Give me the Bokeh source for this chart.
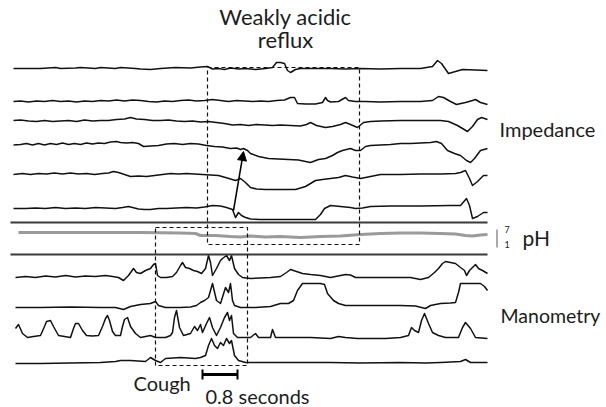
from bokeh.plotting import figure
from bokeh.models import Range1d, Arrow, NormalHead, Label
from bokeh.embed import file_html
from bokeh.resources import INLINE

# ---- trace data (time position, signal level; y grows downward) ----
Z1 = [(13,68),(40,68),(55,67),(60,68),(75,67.5),(80,67),(95,68),(100,67),(115,68),(120,67),
      (135,68),(140,68.5),(150,69),(160,68),(175,67),(190,67.5),(200,66.5),(207,66),(212,68.5),
      (218,68),(224,69),(230,67.5),(238,68.5),(245,68),(255,69),(265,68),(272,67),(276,62),
      (280,62),(284,63),(287,70),(290,72),(295,69),(300,68),(310,68),(320,68),(330,68),(345,68.5),
      (360,68),(380,68.5),(400,68),(420,68),(432,66),(437,60),(441,63),(448,73),(455,71),
      (462,69),(475,69.5),(487,70)]
Z2 = [(13,101),(20,100.5),(28,101.5),(36,100.5),(44,101),(52,100),(60,101),(68,100.5),(76,101.5),
      (84,100.5),(92,101),(100,100),(108,100.5),(116,99.5),(124,100.5),(132,99.5),(140,100),
      (148,101),(156,101.5),(164,100.5),(172,101),(180,100),(188,99.5),(196,100.5),(204,100),
      (212,99),(220,100),(228,101),(236,100),(244,100.5),(252,101),(260,100.5),(268,101),
      (276,100),(284,99.5),(290,97),(294,97),(297,103),(305,103.5),(315,103.5),(322,102),
      (325,97),(327,100),(330,101.5),(338,101),(345,97),(348,100),(355,101),(365,101),
      (380,101.5),(400,101),(420,101),(432,100),(438,96),(443,97),(450,101),(456,104),
      (465,102),(472,100),(475,99),(480,102),(487,104)]
Z3 = [(13,120),(20,119.5),(28,120.5),(36,121),(44,120),(52,121),(60,120.5),(68,120),(76,121),
      (84,119.5),(92,120.5),(100,120),(108,120),(116,119),(124,118.5),(130,117),(136,118.5),
      (144,119),(152,120),(160,120),(168,119.5),(176,120.5),(184,121),(192,120.5),(200,121.5),
      (208,121),(216,122),(224,123),(232,124.5),(240,124),(248,125),(256,124),(264,124.5),
      (272,125),(280,124.5),(290,125),(300,125.5),(306,124),(310,122),(316,125),(325,127),
      (332,126),(340,124),(345,122),(350,124),(357,127),(363,122),(370,121),(380,120.5),
      (400,120),(420,120),(440,120),(448,121),(457,125),(462,128),(467,131),(472,126),
      (477,119),(481,117),(487,119)]
Z4 = [(13,144.5),(20,144),(26,143),(32,144.5),(38,143),(44,144.5),(50,143),(56,144),(62,142.5),
      (68,144),(74,143),(80,144),(86,142.5),(92,143.5),(98,142.5),(104,143),(110,141.5),
      (116,141),(120,142),(126,142.5),(132,142),(138,143),(143,146),(150,145.5),(158,145),
      (166,143.5),(174,143),(182,144),(190,143),(198,143.5),(206,145),(214,146),(222,146.5),
      (230,148),(236,147.5),(240,149),(243,148),(247,150),(250,153),(258,156),(268,158),
      (278,158.5),(288,159),(298,159.5),(305,161),(310,162),(318,159),(325,158),(332,155),
      (337,152),(342,150),(350,148),(355,150),(360,150),(365,146),(370,145),(380,144.5),
      (390,144),(400,143),(410,143),(420,142.5),(430,142),(436,141),(441,143),(447,150),
      (454,153),(460,155),(466,160),(470,162),(474,158),(480,150),(487,148)]
Z5 = [(13,174),(22,173),(30,174),(38,173),(46,173.5),(54,172.5),(62,173.5),(70,172.5),(78,173.5),
      (86,173),(94,174),(102,173),(108,172.5),(113,171),(118,172),(124,174),(130,176),
      (138,175.5),(146,176),(154,175),(162,174),(170,173),(178,173.5),(186,173),(194,173.5),
      (202,174),(210,174.5),(218,175),(225,177),(230,178.5),(235,180),(240,178),(245,182),
      (250,187),(256,188.5),(265,189),(280,189),(295,189),(305,186),(310,183),(315,180),
      (322,179),(330,178),(338,177),(345,175),(352,176.5),(360,178),(370,176),(380,174),
      (400,174),(420,173.5),(440,173.5),(455,173),(460,172),(465,170),(469,178),(472,185),
      (477,181),(483,175),(487,175)]
Z6 = [(13,208),(25,208),(35,207.5),(45,208),(55,207),(65,208),(75,207.5),(85,208),(95,207),
      (105,207.5),(115,208),(122,207),(128,206),(132,207),(138,208.5),(144,209),(150,209),
      (158,208),(166,208),(176,207.5),(186,207),(196,207.5),(204,206.5),(212,205),(220,205.5),
      (226,207),(232,209),(235,217),(238,212),(241,215),(245,217),(250,218.5),(260,219),
      (280,219),(300,219),(315,219),(320,214),(324,208),(330,205),(340,206),(350,207),
      (355,208),(362,207.5),(370,206),(390,205.5),(420,205.5),(450,205),(460,205),(466,198),
      (469,205),(472,218),(477,216),(483,212),(487,212)]
PH = [(18,232),(60,232),(100,232),(140,232),(180,232.5),(195,233),(200,235),(215,235),
      (230,236),(240,236.5),(250,235.5),(265,236.5),(280,236),(300,237),(320,236),(340,235.5),
      (360,234),(380,233),(400,232.5),(420,232.5),(440,233),(455,233.5),(465,235),(472,235.5),
      (480,234.5),(487,234)]
M1 = [(15,277),(25,276),(35,277),(45,275.5),(55,276.5),(65,275),(75,276.5),(85,275.5),(95,276),
      (105,275),(112,276),(118,277),(123,280),(128,275),(133,268),(136,272),(140,273),
      (145,270),(150,268),(153,264),(155,263),(157,275),(160,277),(166,277),(172,276),
      (176,272),(180,265),(182,262),(185,267),(189,268),(193,270),(197,271),(201,273),
      (205,268),(208,255),(210,262),(212,275),(216,268),(220,260),(222,258),(226,255),
      (229,260),(231,255),(234,268),(238,274),(242,277),(250,278),(260,277.5),(270,277),
      (280,276),(286,272),(290,269),(296,271),(302,273),(310,274),(320,275),(330,277),
      (340,275),(345,274),(350,274.5),(355,277),(370,277),(390,277),(410,277),(420,279),
      (428,277),(434,272),(438,268),(442,263),(445,261),(450,262),(455,263),(460,267),
      (464,270),(466,275),(469,270),(472,267),(475,264),(478,268),(482,270),(487,273)]
M2 = [(15,307),(40,307),(70,306.5),(100,307),(115,307),(123,309),(130,306),(140,304),(150,303),
      (155,301),(158,305),(165,307),(180,307),(190,306.5),(196,305),(200,302),(204,300),
      (208,297),(212,283),(216,300),(220,303),(225,287),(228,292),(230,283),(232,300),
      (234,305),(240,307),(255,307),(270,306),(280,303),(288,303),(293,300),(297,290),
      (302,283),(310,283),(320,283),(324,284),(327,293),(333,300),(338,303),(345,305),
      (360,305),(380,305),(400,305),(415,305.5),(425,308),(430,305),(440,303),(450,302.5),
      (455,302),(458,292),(460,283),(470,283),(480,283),(484,286),(487,290)]
M3 = [(15,328),(18,324),(22,333),(27,337),(33,336),(40,335),(44,326),(46,321),(50,320),(53,326),
      (58,335),(64,336),(70,337),(73,328),(75,323),(78,323),(82,330),(86,335),(92,335.5),
      (98,335),(102,326),(105,318),(107,315),(109,320),(112,331),(115,335),(120,335),
      (122,326),(124,319),(127,317),(130,326),(135,333),(140,337),(150,335),(155,337),
      (160,337),(165,337),(170,335),(172,332),(174,317),(176,310),(179,327),(183,335),
      (190,333),(194,326),(197,330),(200,324),(202,332),(206,323),(209,317),(212,327),
      (216,335),(220,327),(224,317),(227,312),(229,320),(231,315),(233,333),(237,337),
      (250,337),(255,333),(258,337),(270,337),(272,329),(275,337),(290,337),(310,337),
      (330,338),(338,336),(345,337),(357,338),(385,338),(400,337),(408,335),(411,327),
      (414,330),(418,332),(421,320),(424,313),(428,323),(432,332),(438,335),(445,337),
      (458,337),(462,327),(465,322),(470,328),(475,337),(487,338)]
M4 = [(15,363),(40,363),(70,362.5),(100,362),(115,361),(120,360),(130,360),(145,361),(150,357),
      (155,360),(160,362),(165,358),(180,357),(195,358),(200,357),(205,355),(208,345),
      (211,338),(214,345),(217,348),(220,342),(223,345),(226,338),(229,343),(231,340),
      (234,355),(238,360),(245,362),(260,362),(300,362),(330,362),(360,362.5),(400,362),
      (425,362.5),(440,362),(460,361),(465,359),(470,362),(487,362)]

SEPARATORS = [222, 254]
TRACE_START, TRACE_END = 10, 487
REFLUX_BOX = (207, 359, 67, 244)
COUGH_BOX = (155, 247, 227, 365)
ARROW = ((233, 210), (243, 151))
SCALE_BAR = (202, 237, 374)

FONT = "Lato"
INK = "#1c1c1c"

p = figure(width=606, height=407, output_backend="svg", toolbar_location=None,
           x_range=Range1d(0, 606), y_range=Range1d(407, 0), min_border=0)
p.axis.visible = False
p.grid.visible = False
p.outline_line_color = None
p.background_fill_color = "white"

def draw(pairs, **kw):
    xs, ys = zip(*pairs)
    p.line(list(xs), list(ys), **kw)

for tr in (Z1, Z2, Z3, Z4, Z5, Z6, M1, M2, M3, M4):
    draw(tr, line_color="#111111", line_width=1.5, line_join="round")
draw(PH, line_color="#9a9a9a", line_width=3.2)

for yv in SEPARATORS:
    p.line([TRACE_START, TRACE_END], [yv, yv], line_color="#3a3a3a", line_width=2)

def box(b):
    x0, x1, y0, y1 = b
    p.line([x0, x1, x1, x0, x0], [y0, y0, y1, y1, y0], line_color="#111111",
           line_width=1.2, line_dash="4 3")
box(REFLUX_BOX)
box(COUGH_BOX)

(ax0, ay0), (ax1, ay1) = ARROW
p.add_layout(Arrow(end=NormalHead(size=9, fill_color="black", line_color="black"),
                   x_start=ax0, y_start=ay0, x_end=ax1, y_end=ay1,
                   line_color="black", line_width=1.5))

sx0, sx1, sy = SCALE_BAR
p.line([sx0, sx1], [sy, sy], line_color="black", line_width=3)
p.segment([sx0, sx1], [sy - 5, sy - 5], [sx0, sx1], [sy + 5, sy + 5], line_color="black", line_width=2)

# pH scale mark
p.line([496.5, 496.5], [229, 247], line_color="#aaaaaa", line_width=2)

def label(x, y, t, size, align="left"):
    # y is the desired visual baseline; compensate renderer baseline offset (~0.4 em)
    p.add_layout(Label(x=x, y=y - 0.4 * size, text=t, text_font=FONT,
                       text_font_size=f"{size}px", text_color=INK,
                       text_align=align, text_baseline="alphabetic"))

label(285, 25, "Weakly acidic", 22, "center")
label(285, 48, "reflux", 22, "center")
label(499, 136, "Impedance", 20)
label(522, 245, "pH", 21)
label(504, 233, "7", 9)
label(504, 248, "1", 9)
label(500, 323, "Manometry", 19.5)
label(133, 390, "Cough", 20)
label(205, 403, "0.8 seconds", 20)

open("out.html", "w").write(file_html(p, INLINE))
